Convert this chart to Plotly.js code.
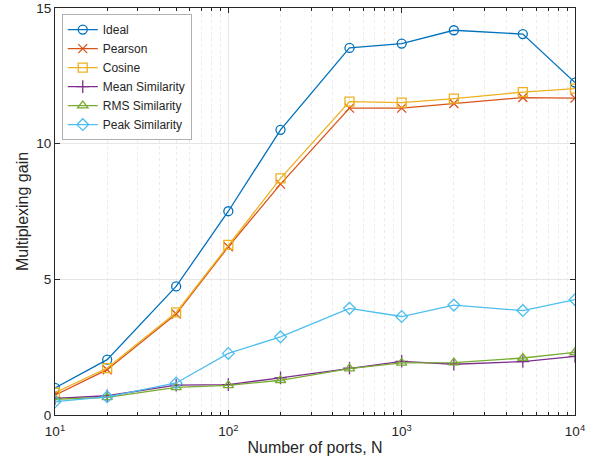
<!DOCTYPE html>
<html>
<head>
<meta charset="utf-8">
<script src="https://cdn.plot.ly/plotly-3.0.1.min.js"></script>
<style>html,body{margin:0;padding:0;background:#fff;}#chart{width:600px;height:465px;}</style>
</head>
<body>
<div id="chart"></div>
<script>
const ports = [10, 20, 50, 100, 200, 500, 1000, 2000, 5000, 10000];
const ideal = [1.00, 2.04, 4.74, 7.51, 10.51, 13.53, 13.69, 14.18, 14.04, 12.25];
const pearson = [0.73, 1.67, 3.72, 6.20, 8.51, 11.31, 11.31, 11.48, 11.70, 11.68];
const cosine = [0.82, 1.73, 3.78, 6.27, 8.72, 11.55, 11.51, 11.66, 11.90, 12.03];
const meanSim = [0.61, 0.71, 1.10, 1.12, 1.37, 1.73, 1.98, 1.87, 1.97, 2.16];
const rmsSim = [0.58, 0.65, 1.02, 1.09, 1.28, 1.71, 1.92, 1.93, 2.10, 2.31];
const peakSim = [0.49, 0.67, 1.18, 2.27, 2.88, 3.93, 3.63, 4.05, 3.85, 4.25];
const names = ["Ideal", "Pearson", "Cosine", "Mean Similarity", "RMS Similarity", "Peak Similarity"];
const colors = ["#0072BD", "#D95319", "#EDB120", "#7E2F8E", "#77AC30", "#4DBEEE"];
const symbols = ["circle-open", "x-thin-open", "square-open", "cross-thin-open", "triangle-up-open", "diamond-open"];
const series = [ideal, pearson, cosine, meanSim, rmsSim, peakSim];
const xTickVals = [10, 100, 1000, 10000];
const xTickText = ["10<sup>1</sup>", "10<sup>2</sup>", "10<sup>3</sup>", "10<sup>4</sup>"];
const yTickVals = [0, 5, 10, 15];
const yTickText = ["0", "5", "10", "15"];

const traces = series.map((y, i) => ({
  x: ports, y: y, name: names[i], type: "scatter", mode: "lines+markers",
  line: {color: colors[i], width: 1.3},
  marker: {symbol: symbols[i], size: 9, color: colors[i], line: {color: colors[i], width: 1.3}}
}));

const font = {family: "Liberation Sans, Arial, Helvetica, sans-serif", color: "#262626"};
const layout = {
  width: 600, height: 465,
  margin: {l: 55, r: 25, t: 8, b: 50},
  paper_bgcolor: "#fff", plot_bgcolor: "#fff",
  font: Object.assign({size: 13}, font),
  showlegend: true,
  legend: {x: 0.013, y: 0.985, xanchor: "left", yanchor: "top", bgcolor: "#fff",
           bordercolor: "#b0b0b0", borderwidth: 1, font: Object.assign({size: 12}, font),
           tracegroupgap: 0, itemwidth: 30},
  xaxis: {
    type: "log", range: [1, 4], tickvals: xTickVals, ticktext: xTickText,
    ticks: "inside", ticklen: 5, tickcolor: "#262626", showline: true, linecolor: "#262626",
    linewidth: 1, mirror: "ticks", showgrid: true, gridcolor: "#e6e6e6", zeroline: false,
    tickfont: Object.assign({size: 13.5}, font), ticklabeloverflow: "allow", ticklabelstandoff: 4,
    minor: {dtick: "D1", showgrid: true, gridcolor: "#ebebeb", griddash: "dot", ticks: "inside", ticklen: 3, tickcolor: "#262626"},
    title: {text: "Number of ports, N", font: Object.assign({size: 16}, font), standoff: 3}
  },
  yaxis: {
    range: [0, 15], tickvals: yTickVals, ticktext: yTickText, ticks: "inside", ticklen: 5, tickcolor: "#262626",
    showline: true, linecolor: "#262626", linewidth: 1, mirror: "ticks",
    showgrid: true, gridcolor: "#e6e6e6", zeroline: false, ticklabeloverflow: "allow",
    tickfont: Object.assign({size: 13.5}, font),
    title: {text: "Multiplexing gain", font: Object.assign({size: 16}, font), standoff: 3}
  }
};
Plotly.newPlot("chart", traces, layout, {displayModeBar: false, staticPlot: true});
</script>
</body>
</html>
